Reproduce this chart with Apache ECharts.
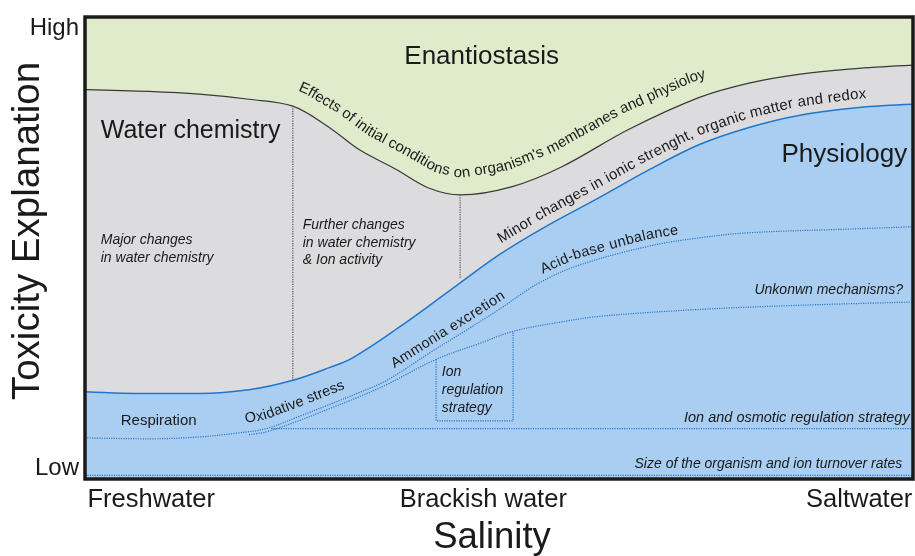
<!DOCTYPE html>
<html>
<head>
<meta charset="utf-8">
<title>Toxicity explanation vs salinity</title>
<script src="https://cdn.jsdelivr.net/npm/echarts@6.0.0/dist/echarts.min.js"></script>
<style>
  html, body { margin: 0; padding: 0; background: #fff; }
  #chart { width: 915px; height: 556px; }
</style>
</head>
<body>
<div id="chart"></div>
<script>
// x: salinity (0 = freshwater, 100 = saltwater), y: toxicity explanation (0 = low, 100 = high)
var enantioLimit = [[0, 84.3], [7.7, 83.9], [13.8, 83.3], [19.8, 82.2], [25.1, 80.7], [29.5, 76.1], [33.1, 71.3],
  [37.6, 67.0], [41.5, 63.0], [45.4, 61.5], [51.6, 63.3], [57.6, 67.6], [65.7, 75.7], [74.2, 82.6],
  [80.2, 85.7], [86.2, 87.6], [93.5, 88.9], [100, 89.6]];
var physioLimit = [[0, 18.9], [7.7, 18.5], [13.8, 18.5], [19.8, 19.3], [25.0, 21.3], [29.5, 24.1], [32.2, 26.1],
  [37.9, 32.8], [44.0, 40.7], [50.0, 48.5], [56.0, 55.0], [62.1, 60.9], [68.1, 66.9], [74.2, 72.4],
  [80.2, 76.1], [86.2, 78.7], [93.5, 80.4], [100, 81.1]];
var acidBase = [[0, 8.9], [7.7, 8.7], [13.8, 9.1], [18.6, 10.0], [21.9, 10.9], [25.8, 13.5], [29.5, 16.1],
  [33.1, 18.7], [36.4, 21.3], [41.9, 27.6], [46.4, 32.6], [50.0, 36.7], [54.8, 42.4], [59.7, 46.3],
  [68.1, 50.4], [74.2, 52.2], [80.2, 53.3], [92.3, 54.1], [100, 54.6]];
var unknownMech = [[19.8, 9.6], [21.9, 10.2], [25.8, 12.6], [29.5, 15.2], [33.1, 17.8], [36.4, 20.4],
  [42.4, 25.9], [47.6, 29.3], [51.8, 32.0], [57.2, 33.9], [62.1, 35.2], [74.2, 36.7], [86.2, 37.6], [100, 38.3]];
var ionOsmotic = [[22.5, 10.9], [100, 10.9]];
var turnover = [[0, 0.8], [100, 0.8]];
var ionBox = [[42.4, 25.9], [42.4, 12.6], [51.7, 12.6], [51.7, 32.0]];
var chemDivider1 = [[25.1, 80.7], [25.1, 21.3]];
var chemDivider2 = [[45.3, 61.5], [45.3, 43.5]];

var xTickValues = [8.0, 48.1, 93.5];
var xTickLabels = ['Freshwater', 'Brackish water', 'Saltwater'];
var yTickValues = [2.4, 97.6];
var yTickLabels = ['Low', 'High'];

var FONT = '"Liberation Sans", Arial, Helvetica, sans-serif';
var INK = '#1a1a1a';
var DOT_BLUE = '#2a78cc';

var chart = echarts.init(document.getElementById('chart'));

function dottedLine(data, color) {
  return {
    type: 'line', data: data, symbol: 'none', silent: true, z: 3,
    lineStyle: { color: color || DOT_BLUE, width: 1.2, type: 'dotted' }
  };
}

var option = {
  animation: false,
  backgroundColor: '#fff',
  grid: {
    left: 85, right: 2, top: 17, bottom: 77,
    outerBoundsMode: 'none', containLabel: false,
    show: true, backgroundColor: '#e0ebcb', borderWidth: 0
  },
  xAxis: {
    type: 'value', min: 0, max: 100,
    axisLine: { show: false }, axisTick: { show: false }, splitLine: { show: false },
    axisLabel: {
      customValues: xTickValues,
      formatter: function (v) { var i = xTickValues.indexOf(v); return i < 0 ? '' : xTickLabels[i]; },
      fontSize: 25.5, color: INK, fontFamily: FONT, margin: 8
    },
    name: 'Salinity', nameLocation: 'middle', nameGap: 40, nameMoveOverlap: false,
    nameTextStyle: { fontSize: 36.5, color: INK, fontFamily: FONT, padding: [0, 14, 0, 0] }
  },
  yAxis: {
    type: 'value', min: 0, max: 100,
    axisLine: { show: false }, axisTick: { show: false }, splitLine: { show: false },
    axisLabel: {
      customValues: yTickValues,
      formatter: function (v) { var i = yTickValues.indexOf(v); return i < 0 ? '' : yTickLabels[i]; },
      fontSize: 24, color: INK, fontFamily: FONT, margin: 6
    },
    name: 'Toxicity Explanation', nameLocation: 'middle', nameRotate: 90, nameGap: 37, nameMoveOverlap: false,
    nameTextStyle: { fontSize: 38.5, color: INK, fontFamily: FONT, padding: [0, 0, 0, 34] }
  },
  series: [
    {
      type: 'line', name: 'Enantiostasis limit', data: enantioLimit, smooth: 0.35, symbol: 'none', silent: true, z: 1,
      lineStyle: { color: '#3a3a3a', width: 1.2 },
      areaStyle: { color: '#dcdcde', opacity: 1 }
    },
    {
      type: 'line', name: 'Physiology limit', data: physioLimit, smooth: 0.35, symbol: 'none', silent: true, z: 2,
      lineStyle: { color: '#1e76cf', width: 1.5 },
      areaStyle: { color: '#a9cef2', opacity: 1 }
    },
    Object.assign(dottedLine(acidBase), { smooth: 0.35 }),
    Object.assign(dottedLine(unknownMech), { smooth: 0.35 }),
    dottedLine(ionOsmotic),
    dottedLine(turnover),
    dottedLine(ionBox),
    dottedLine(chemDivider1, '#555'),
    dottedLine(chemDivider2, '#555')
  ]
};
chart.setOption(option);

function toPx(p) { return chart.convertToPixel({ gridIndex: 0 }, p); }

var measureCtx = document.createElement('canvas').getContext('2d');

// lay a string out character by character along a curve, offset above it
function pathText(points, text, x0, x1, offset, fontSize, weight) {
  var font = (weight || 'normal') + ' ' + fontSize + 'px ' + FONT;
  measureCtx.font = font;
  var px = points.map(toPx);
  var dense = [];
  for (var i = 0; i < px.length - 1; i++) {
    var a = px[i], b = px[i + 1];
    var n = Math.max(1, Math.ceil(Math.hypot(b[0] - a[0], b[1] - a[1]) / 2));
    for (var k = 0; k < n; k++) dense.push([a[0] + (b[0] - a[0]) * k / n, a[1] + (b[1] - a[1]) * k / n]);
  }
  dense.push(px[px.length - 1]);
  var off = dense.map(function (p, i) {
    var p0 = dense[Math.max(0, i - 6)], p1 = dense[Math.min(dense.length - 1, i + 6)];
    var ang = Math.atan2(p1[1] - p0[1], p1[0] - p0[0]);
    return [p[0] + offset * Math.sin(ang), p[1] - offset * Math.cos(ang)];
  });
  var cum = [0];
  for (var j = 1; j < off.length; j++) {
    cum.push(cum[j - 1] + Math.hypot(off[j][0] - off[j - 1][0], off[j][1] - off[j - 1][1]));
  }
  var sx0 = toPx([x0, 0])[0], sx1 = toPx([x1, 0])[0];
  var iStart = 0, iEnd = dense.length - 1;
  while (iStart < dense.length - 1 && dense[iStart][0] < sx0) iStart++;
  while (iEnd > 0 && dense[iEnd][0] > sx1) iEnd--;
  var L = cum[iEnd] - cum[iStart];
  var chars = text.split('');
  var widths = chars.map(function (c) { return measureCtx.measureText(c).width; });
  var W = widths.reduce(function (s, w) { return s + w; }, 0);
  var gap = chars.length > 1 ? (L - W) / (chars.length - 1) : 0;

  function at(s) {
    var idx = 1;
    while (idx < cum.length - 1 && cum[idx] < s) idx++;
    var t = (s - cum[idx - 1]) / Math.max(1e-6, cum[idx] - cum[idx - 1]);
    var p = [off[idx - 1][0] + (off[idx][0] - off[idx - 1][0]) * t, off[idx - 1][1] + (off[idx][1] - off[idx - 1][1]) * t];
    var q0 = off[Math.max(0, idx - 5)], q1 = off[Math.min(off.length - 1, idx + 5)];
    return { p: p, ang: Math.atan2(q1[1] - q0[1], q1[0] - q0[0]) };
  }

  var out = [];
  var s = cum[iStart];
  chars.forEach(function (c, i) {
    var mid = s + widths[i] / 2;
    s += widths[i] + gap;
    if (c === ' ') return;
    var r = at(mid);
    out.push({
      type: 'text', x: r.p[0], y: r.p[1], rotation: -r.ang, silent: true, z: 100,
      style: {
        text: c, font: font, fill: INK,
        align: 'center', verticalAlign: 'middle', textAlign: 'center', textVerticalAlign: 'middle'
      }
    });
  });
  return out;
}

function label(pos, text, opts) {
  var p = toPx(pos);
  opts = opts || {};
  var size = opts.size || 14;
  return {
    type: 'text', x: p[0], y: p[1], silent: true, z: 100,
    style: {
      text: text, fill: INK,
      font: (opts.italic ? 'italic ' : '') + size + 'px ' + FONT,
      lineHeight: opts.lineHeight || Math.round(size * 1.2),
      align: opts.align || 'left', verticalAlign: 'middle',
      textAlign: opts.align || 'left', textVerticalAlign: 'middle'
    }
  };
}

var topLeft = toPx([0, 100]), bottomRight = toPx([100, 0]);
var graphics = [
  {
    type: 'rect', silent: true, z: 120,
    shape: { x: topLeft[0], y: topLeft[1], width: bottomRight[0] - topLeft[0], height: bottomRight[1] - topLeft[1] },
    style: { fill: 'none', stroke: INK, lineWidth: 3.5 }
  },
  label([47.9, 91.3], 'Enantiostasis', { size: 26, align: 'center' }),
  label([1.9, 75.4], 'Water chemistry', { size: 25 }),
  label([99.3, 70.2], 'Physiology', { size: 26, align: 'right' }),
  label([8.9, 12.6], 'Respiration', { size: 15, align: 'center' }),
  label([1.9, 49.8], 'Major changes\nin water chemistry', { size: 14, italic: true, lineHeight: 18 }),
  label([26.3, 51.1], 'Further changes\nin water chemistry\n& Ion activity', { size: 14, italic: true, lineHeight: 17.5 }),
  label([43.1, 19.3], 'Ion\nregulation\nstrategy', { size: 14, italic: true, lineHeight: 18 }),
  label([98.8, 40.9], 'Unkonwn mechanisms?', { size: 14, italic: true, align: 'right' }),
  label([99.6, 13.3], 'Ion and osmotic regulation strategy', { size: 14.5, italic: true, align: 'right' }),
  label([98.7, 3.3], 'Size of the organism and ion turnover rates', { size: 14, italic: true, align: 'right' })
];
graphics = graphics
  .concat(pathText(enantioLimit, "Effects of initial conditions on organism's membranes and physioloy", 25.0, 75.7, 21, 15))
  .concat(pathText(physioLimit, 'Minor changes in ionic strenght, organic matter and redox', 50.8, 94.6, 13, 15))
  .concat(pathText(acidBase, 'Acid-base unbalance', 55.6, 72.0, 11, 14.5))
  .concat(pathText(acidBase, 'Ammonia excretion', 37.6, 51.2, 10, 14.5))
  .concat(pathText(acidBase, 'Oxidative stress', 19.5, 31.9, 13, 14.5));

chart.setOption({ graphic: graphics });
</script>
</body>
</html>
